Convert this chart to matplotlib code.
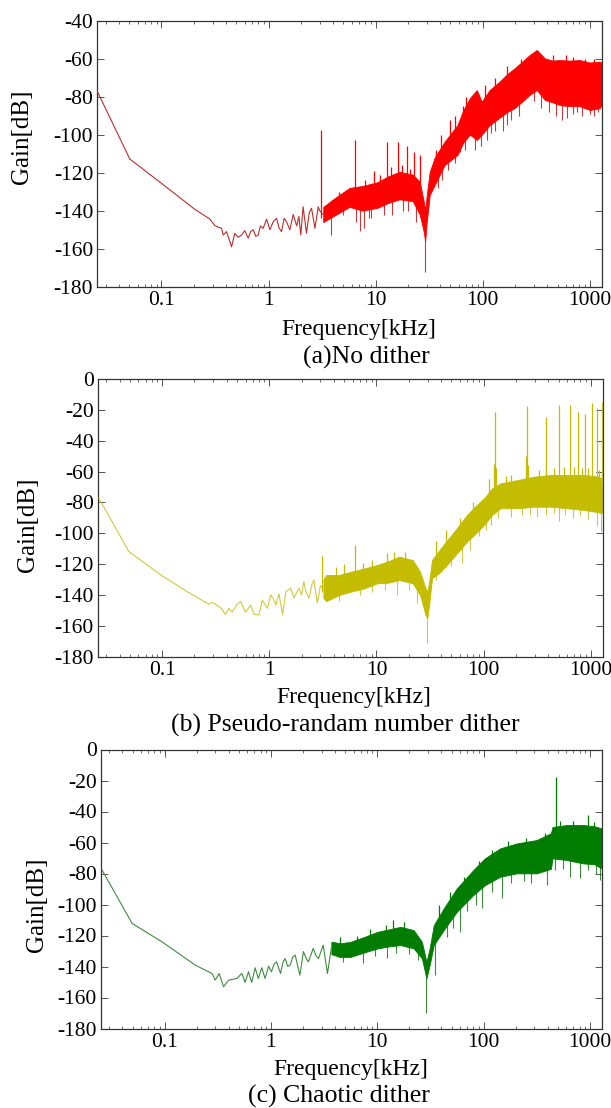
import numpy as np
import matplotlib
matplotlib.use("Agg")
import matplotlib.pyplot as plt
from matplotlib.ticker import LogLocator, NullFormatter

plt.rcParams['font.family'] = ['Liberation Serif', 'DejaVu Serif']

# ---------------- data ----------------
xtick_vals = [0.1, 1, 10, 100, 1000]
xtick_labels = ["0.1", "1", "10", "100", "1000"]
yticks_a = [-40, -60, -80, -100, -120, -140, -160, -180]
yticks_bc = [0, -20, -40, -60, -80, -100, -120, -140, -160, -180]

# (a) No dither
trace_f_a = [0.0252, 0.0506, 0.1, 0.205, 0.283, 0.315, 0.364, 0.377, 0.405, 0.451,
             0.484, 0.52, 0.56, 0.60, 0.645, 0.68, 0.718, 0.76, 0.80, 0.84, 0.89, 0.958, 1.03,
             1.10, 1.19, 1.25, 1.32, 1.40, 1.47, 1.58, 1.70, 1.83, 1.92, 2.0, 2.10, 2.26,
             2.40, 2.52, 2.71, 2.91, 3.0, 3.24]
trace_g_a = [-77.3, -112.8, -125.6, -139.3, -144.4, -147.9, -149.3, -152.8, -151.0, -159.0,
             -151.9, -154.0, -152.8, -150.5, -154.5, -151.0, -150.0, -153.5, -152.8, -148.0,
             -149.3, -144.4, -150.0, -146.0, -144.0, -149.0, -151.0, -144.0, -145.8, -150.0,
             -142.0, -148.0, -143.0, -152.8, -137.9, -151.9, -141.0, -138.7, -149.3, -137.9,
             -140.0, -142.0]
band_f_a = [3.24, 4.0, 5.7, 7.5, 10.4, 13.0, 16.7, 22.2, 25.8, 28.1, 29.0, 30.0, 32, 35.6, 44,
            58, 66, 76, 88, 98, 116, 144, 170, 199, 240, 275, 320, 380, 450, 524, 650, 807,
            1000, 1240, 1300]
band_lo_a = [-146, -143, -138, -140, -138.5, -136, -134, -135, -142, -151, -156, -146, -131.7,
             -126.5, -116, -110.7, -104, -100, -102.8, -100, -95, -91, -88, -86, -82, -79,
             -76.5, -81.7, -83, -84.4, -85, -85, -87, -86, -84]
band_hi_a = [-138, -134, -128, -127, -125, -122, -119.5, -121, -124.7, -135, -140, -131.7,
             -119.5, -112, -103.7, -95, -87, -80.7, -76.5, -82.6, -76.5, -72, -68, -65, -61,
             -58, -55.4, -59.8, -61, -60.7, -61, -60.7, -62, -61.5, -62]
spike_f_a = [3.1, 6.4, 9.6, 12.9, 16.2, 19.7, 22.6, 26.0,
             4.5, 8.0, 11.0, 14.0, 17.5, 21.0, 37, 41, 50, 55, 65, 70, 105, 130, 170, 230, 450,
             600, 700, 900, 1100]
spike_top_a = [-97.5, -103, -119, -103.6, -103.6, -106, -109, -110.7,
               -130, -124, -121, -117, -116, -118, -108, -100, -92, -90, -85, -80, -74, -70,
               -64, -60, -58, -58, -59, -60, -60]
dip_f_a = [3.8, 5.0, 6.6, 7.2, 7.8, 8.7, 9.0, 12.0, 14.1, 18.0, 20, 24, 29.0, 38, 42, 47, 50, 55,
           61, 68, 85, 96, 110, 120, 130, 155, 170, 185, 220, 300, 350, 420, 480, 550, 612,
           700, 760, 850, 1000, 1100, 1200]
dip_bot_a = [-153, -142, -146, -150.6, -149, -144, -144, -142, -142, -140, -140, -146, -172,
             -128, -124, -118.6, -114, -115, -109, -108, -108, -106, -103, -99, -98, -98, -95,
             -92, -90, -82, -86, -88, -90, -92, -91, -89, -88, -90, -89, -90, -88]

# (b) Pseudo-random number dither
trace_f_b = [0.0257, 0.049, 0.097, 0.171, 0.273, 0.293, 0.351, 0.39, 0.42, 0.45, 0.50, 0.54,
             0.60, 0.67, 0.72, 0.80, 0.86, 0.96, 1.03, 1.10, 1.15, 1.23, 1.33, 1.43, 1.58,
             1.70, 1.89, 2.0, 2.10, 2.20, 2.35, 2.50, 2.61, 2.80, 3.0, 3.2]
trace_g_b = [-77.3, -111.9, -127, -137.8, -146, -144.7, -148.2, -152.5, -148.6, -151.2, -146.0,
             -144.3, -151.2, -146.5, -152.5, -153, -143.2, -148.6, -140, -143.0, -146.5, -139.3,
             -152.5, -137.8, -135.6, -142, -135.6, -140.0, -131.4, -138.0, -142, -133.0,
             -130.3, -145.2, -134, -136]
band_f_b = [3.2, 3.4, 4.5, 5.8, 7.5, 10.2, 13.0, 16.3, 21.8, 25.5, 28.7, 29.8, 31, 33, 39.8, 53,
            70, 85, 101, 120, 144, 207, 295, 423, 605, 866, 1100, 1290, 1300]
band_lo_b = [-142, -144, -140, -137.8, -136, -132.4, -132, -130.3, -132.4, -140, -153, -155,
             -146.5, -129.2, -124.9, -115.2, -105.4, -100, -94.6, -88.1, -83.8, -83.8, -82.8,
             -82.8, -83.8, -84.9, -86, -87, -87]
band_hi_b = [-130, -127, -127, -124.9, -123, -120.5, -118, -115.2, -117.3, -124.9, -135.6, -138,
             -131.4, -117.3, -109.7, -99, -88.1, -82, -77.3, -70.8, -67.6, -65.5, -63.3, -62.2,
             -62.2, -62.2, -63, -64.4, -64.4]
spike_f_b = [3.1, 6.3, 112, 124, 127, 130, 250, 254, 258, 378, 381, 508, 635, 762, 889, 1016,
             1143, 1270,
             4.2, 5.0, 7.5, 9.0, 12.5, 14.5, 18.5, 36, 45, 60, 80, 160, 180, 330, 450, 560,
             700, 820, 950, 1200]
spike_top_b = [-115, -107.6, -65, -55, -21.2, -58, -50, -17.3, -56, -55, -24.4, -16.8, -16.8,
               -21.2, -22.9, -15.8, -18.6, -14.7,
               -122, -120, -119, -117, -113, -112, -112, -105, -98, -90, -80, -63, -62, -59,
               -58, -57, -57, -58, -58, -59]
dip_f_b = [4.5, 7.0, 9.0, 12.0, 15.6, 20, 24, 29.8, 36, 45, 50, 63, 75, 90, 105, 116, 135, 179,
           230, 270, 318, 380, 450, 506, 580, 680, 800, 950, 1150, 1240]
dip_bot_b = [-144, -140, -138, -137, -140, -137, -145, -171.3, -130, -122, -121, -119, -111,
             -102, -98, -94.6, -90, -89.7, -88, -88, -89.7, -88, -87, -91.8, -88, -90, -89,
             -91, -95, -98.6]

# (c) Chaotic dither
trace_f_c = [0.0258, 0.0494, 0.0945, 0.194, 0.279, 0.299, 0.326, 0.358, 0.399, 0.478, 0.533,
             0.571, 0.615, 0.66, 0.71, 0.76, 0.82, 0.88, 0.95, 1.01, 1.07, 1.13, 1.23, 1.30,
             1.36, 1.44, 1.52, 1.60, 1.69, 1.87, 2.02, 2.15, 2.25, 2.5, 2.65, 2.8, 3.1, 3.4, 3.7]
trace_g_c = [-77.8, -112.2, -124.1, -139.1, -144.5, -148.8, -144.5, -153.1, -148.8, -147.7,
             -144.5, -150.3, -143.4, -150.3, -140.8, -147.7, -140.8, -147.7, -139.8, -143.4,
             -138.5, -137, -144.5, -137.0, -134.9, -140.0, -139, -134.0, -132.6, -145.6, -130.4,
             -135.0, -137, -128.3, -133.0, -134.9, -126.2, -144.5, -128]
band_f_c = [3.7, 4.5, 5.6, 7.5, 10.1, 13.0, 16.5, 22, 26.3, 29, 31.1, 34, 42.2, 56, 80, 103,
            143, 205, 316, 430, 445, 604, 865, 1100, 1288, 1300]
band_lo_c = [-132, -134, -133.8, -131, -128.3, -127, -126.2, -128.3, -134.8, -147.7, -139.1,
             -126.2, -116.5, -104.7, -93.9, -87.5, -82.1, -79.9, -79.9, -77, -70.2, -71.3,
             -73.5, -74, -76.7, -76.7]
band_hi_c = [-124, -125, -124.1, -121, -117.6, -116, -114.4, -116.5, -124.1, -137, -128.3,
             -113.3, -102.5, -89.6, -77.8, -70.2, -63.8, -60.6, -58.4, -54, -50, -48.7, -48.7,
             -49.5, -50.9, -51]
spike_f_c = [480, 964,
             4.5, 6.5, 8.5, 12, 14, 18, 38, 48, 65, 90, 120, 170, 250, 380, 520, 700, 1100]
spike_top_c = [-17.6, -42.3,
               -121, -120, -116, -113, -110, -111, -100, -92, -82, -72, -65, -59, -57, -54,
               -46, -46, -47]
dip_f_c = [4.8, 7.3, 9.5, 12.3, 15, 20, 24, 29.0, 35, 45, 52, 60, 70, 85, 96, 120, 149, 180,
           240, 280, 392, 470, 560, 650, 806, 950, 1150, 1250]
dip_bot_c = [-137, -138, -133, -134.8, -131, -132, -136, -170.3, -145.6, -121, -115, -117.5,
             -104, -100, -102.5, -92, -96, -86, -85, -86, -87.5, -78, -77, -82, -83, -78, -80,
             -84]

captions = ["(a)No dither", "(b) Pseudo-randam number dither", "(c) Chaotic dither"]

# ---------------- layout ----------------
W, H = 611, 1108
fig = plt.figure(figsize=(W / 100, H / 100), dpi=100)


def box(l, r, t, b):
    return [l / W, 1 - b / H, (r - l) / W, (b - t) / H]


panels = [
    dict(rect=box(97.4, 602, 20.7, 286.7), yt=yticks_a, ylim=(-180, -40),
         tf=trace_f_a, tg=trace_g_a, bf=band_f_a, blo=band_lo_a, bhi=band_hi_a,
         sf=spike_f_a, st=spike_top_a, df=dip_f_a, db=dip_bot_a,
         band="#ff0000", thin="#b8302c", dipc="#c43c3c",
         xl=(358.5, 330), cap=(366, 357), yl=(22, 137)),
    dict(rect=box(98, 603, 379, 656.7), yt=yticks_bc, ylim=(-180, 0),
         tf=trace_f_b, tg=trace_g_b, bf=band_f_b, blo=band_lo_b, bhi=band_hi_b,
         sf=spike_f_b, st=spike_top_b, df=dip_f_b, db=dip_bot_b,
         band="#c4bc00", thin="#d2c840", dipc="#cdc650",
         xl=(353.7, 698), cap=(345, 725), yl=(28, 525)),
    dict(rect=box(101, 602, 749.5, 1028.5), yt=yticks_bc, ylim=(-180, 0),
         tf=trace_f_c, tg=trace_g_c, bf=band_f_c, blo=band_lo_c, bhi=band_hi_c,
         sf=spike_f_c, st=spike_top_c, df=dip_f_c, db=dip_bot_c,
         band="#007c00", thin="#3f8c3f", dipc="#3e8a3e",
         xl=(350.7, 1069), cap=(339, 1096), yl=(37, 905)),
]

for i, p in enumerate(panels):
    ax = fig.add_axes(p["rect"])
    ax.set_xscale("log")
    ax.set_xlim(0.0252, 1300)
    ax.set_ylim(*p["ylim"])

    # combined upper/lower references for spike bases
    cf = np.log10(np.concatenate([p["tf"], p["bf"]]))
    chi = np.concatenate([p["tg"], p["bhi"]])
    clo = np.concatenate([p["tg"], p["blo"]])
    order = np.argsort(cf, kind="stable")
    cf, chi, clo = cf[order], chi[order], clo[order]

    ax.plot(p["tf"], p["tg"], color=p["thin"], lw=0.8, zorder=3)
    ax.fill_between(p["bf"], p["blo"], p["bhi"], color=p["band"], lw=0.6,
                    edgecolor=p["band"], zorder=2)

    # upward spikes start inside the band/trace and rise to the read peak value
    sf = np.array(p["sf"], float)
    base = np.interp(np.log10(sf), cf, chi)
    ax.vlines(sf, base - 3, p["st"], color=p["band"], lw=0.9, zorder=3)

    # downward spikes start inside the band/trace and fall to the read minimum
    df = np.array(p["df"], float)
    top = np.interp(np.log10(df), cf, clo)
    ax.vlines(df, p["db"], top + 3, color=p["dipc"], lw=0.8, zorder=1)

    ax.set_xticks(xtick_vals, labels=xtick_labels)
    ax.xaxis.set_minor_locator(LogLocator(base=10, subs=np.arange(2, 10)))
    ax.xaxis.set_minor_formatter(NullFormatter())
    ax.set_yticks(p["yt"], labels=[str(v) for v in p["yt"]])

    ax.tick_params(which="both", direction="in", top=True, right=True, color="#555555")
    ax.tick_params(which="major", length=5, width=0.7, labelsize=15.5, pad=3)
    ax.tick_params(which="minor", length=2.5, width=0.6)
    ax.tick_params(axis="y", pad=3)
    for s in ax.spines.values():
        s.set_linewidth(0.9)
        s.set_color("#333333")

    fig.text(p["xl"][0] / W, 1 - p["xl"][1] / H, "Frequency[kHz]", ha="center",
             va="center", fontsize=17)
    fig.text(p["cap"][0] / W, 1 - p["cap"][1] / H, captions[i], ha="center",
             va="center", fontsize=18.5)
    fig.text(p["yl"][0] / W, 1 - p["yl"][1] / H, "Gain[dB]", ha="center",
             va="center", rotation=90, fontsize=18)

fig.savefig("out.png", dpi=100)
